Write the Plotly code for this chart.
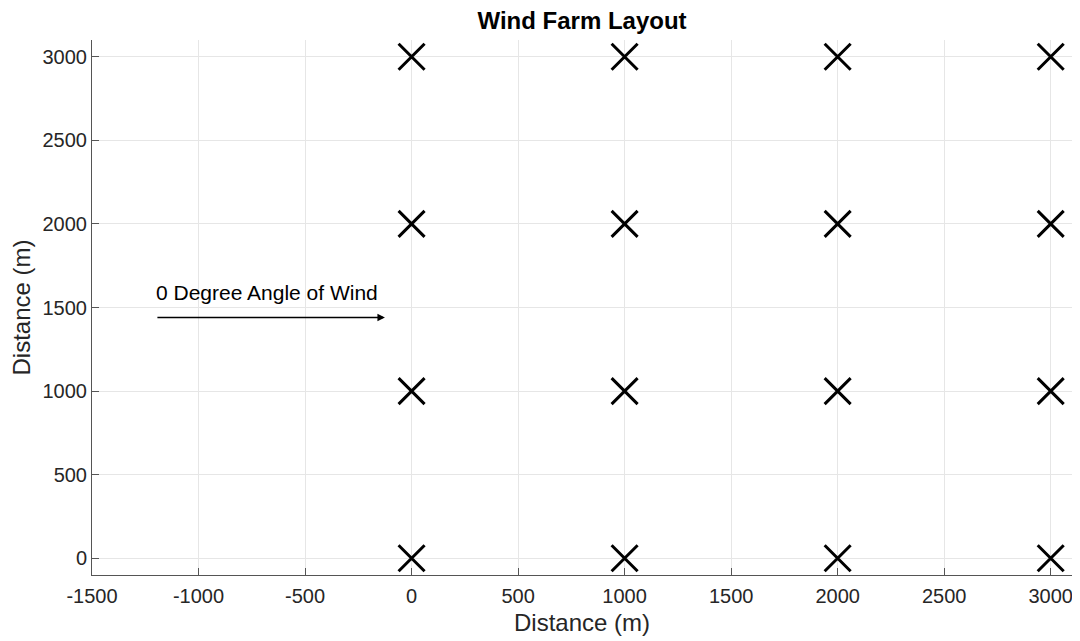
import plotly.graph_objects as go

# Turbine positions (m)
turbine_x = [0, 1000, 2000, 3000] * 4
turbine_y = [0]*4 + [1000]*4 + [2000]*4 + [3000]*4

x_ticks = [-1500, -1000, -500, 0, 500, 1000, 1500, 2000, 2500, 3000]
x_tick_labels = ["-1500", "-1000", "-500", "0", "500", "1000", "1500", "2000", "2500", "3000"]
y_ticks = [0, 500, 1000, 1500, 2000, 2500, 3000]
y_tick_labels = ["0", "500", "1000", "1500", "2000", "2500", "3000"]

arrow_start = (-1200, 1440)
arrow_end = (-125, 1440)
label_pos = (-1210, 1590)
label_text = "0 Degree Angle of Wind"

font_family = "Liberation Sans, Arial, Helvetica, sans-serif"

fig = go.Figure()
fig.add_trace(go.Scatter(
    x=turbine_x, y=turbine_y, mode="markers",
    marker=dict(symbol="x-thin", size=26, line=dict(width=3, color="black"), color="black"),
    showlegend=False, hoverinfo="skip",
))

fig.add_annotation(
    x=arrow_end[0], y=arrow_end[1], ax=arrow_start[0], ay=arrow_start[1],
    xref="x", yref="y", axref="x", ayref="y",
    showarrow=True, arrowhead=2, arrowsize=1, arrowwidth=1.5, arrowcolor="black", text="",
)
fig.add_annotation(
    x=label_pos[0], y=label_pos[1], xref="x", yref="y", text=label_text,
    showarrow=False, xanchor="left", yanchor="middle",
    font=dict(family=font_family, size=21, color="black"),
)

axis_common = dict(
    showgrid=True, gridcolor="#e6e6e6", gridwidth=1,
    showline=True, linecolor="#555555", linewidth=1,
    ticks="inside", ticklen=7, tickcolor="#555555",
    zeroline=False, mirror=False,
    tickfont=dict(family=font_family, size=20, color="#262626"),
)

fig.update_layout(
    width=1080, height=641,
    paper_bgcolor="white", plot_bgcolor="white",
    margin=dict(l=84, r=16, t=32, b=74),
    title=dict(text="<b>Wind Farm Layout</b>", xref="paper", x=0.5, xanchor="center",
               yref="container", y=1 - 13/641, yanchor="middle",
               font=dict(family=font_family, size=24, color="black")),
    xaxis=dict(range=[-1500, 3100], tickvals=x_ticks, ticktext=x_tick_labels,
               ticklabelstandoff=3,
               title=dict(text="Distance (m)", standoff=8, font=dict(family=font_family, size=24, color="#262626")),
               **axis_common),
    yaxis=dict(range=[-100, 3100], tickvals=y_ticks, ticktext=y_tick_labels,
               title=dict(text="Distance (m)", standoff=7, font=dict(family=font_family, size=24, color="#262626")),
               **axis_common),
)

fig.write_html("out.html")
